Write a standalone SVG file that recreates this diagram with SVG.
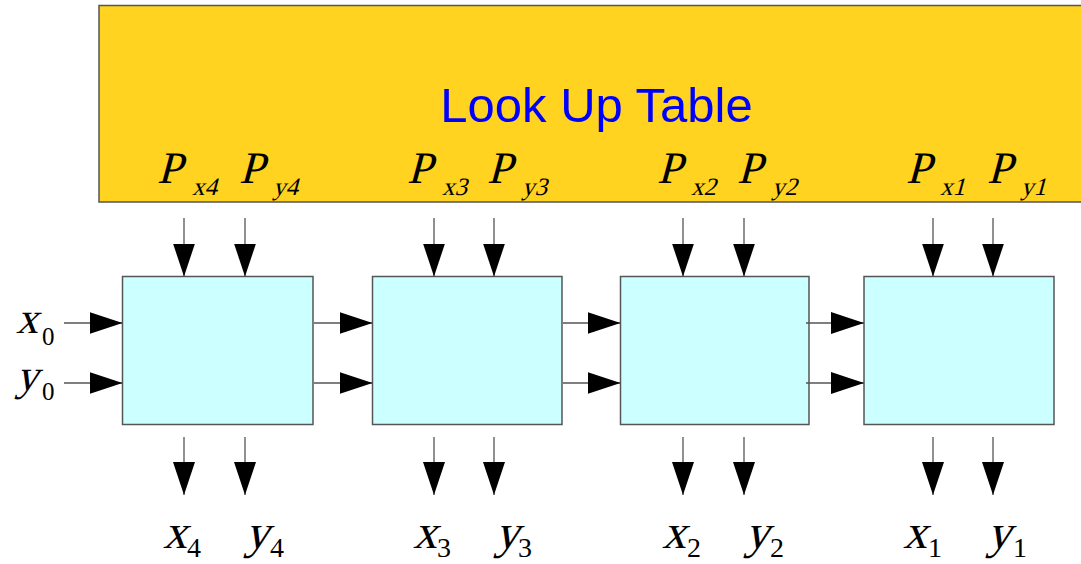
<svg xmlns="http://www.w3.org/2000/svg" width="1081" height="564" viewBox="0 0 1081 564">
<defs>
<marker id="ah" markerWidth="34" markerHeight="22" refX="33" refY="11" orient="auto" markerUnits="userSpaceOnUse"><path d="M0,0 L33,11 L0,22 z" fill="#000"/></marker>
</defs>
<style>
.box{fill:#ccffff;stroke:#555;stroke-width:1.5}
.lut{fill:#ffd320;stroke:#555;stroke-width:1.5}
.c{stroke:#555;stroke-width:1.3;fill:none;marker-end:url(#ah)}
.s{font-family:'Liberation Serif','Times New Roman',serif;font-style:normal;fill:#000}
.P{font-size:45px}
.ps{font-size:25px}
.v{font-size:48px}
.vl{font-size:44px}
.n{font-size:28px}
.nl{font-size:25px}
.t{font-family:'Liberation Sans',Arial,sans-serif;fill:#0000ff;font-size:49px}
</style>
<g id="lut">
<rect class="lut" x="99" y="5.5" width="1000" height="196.5"/>
<text class="t" x="596.5" y="121.5" text-anchor="middle">Look Up Table</text>
<text class="s P" transform="translate(157,183) skewX(-15)">P</text>
<text class="s ps" transform="translate(192,195) skewX(-15)">x4</text>
<text class="s P" transform="translate(239,183) skewX(-15)">P</text>
<text class="s ps" transform="translate(273,195) skewX(-15)">y4</text>
<text class="s P" transform="translate(407,183) skewX(-15)">P</text>
<text class="s ps" transform="translate(442,195) skewX(-15)">x3</text>
<text class="s P" transform="translate(487,183) skewX(-15)">P</text>
<text class="s ps" transform="translate(522,195) skewX(-15)">y3</text>
<text class="s P" transform="translate(657,183) skewX(-15)">P</text>
<text class="s ps" transform="translate(691,195) skewX(-15)">x2</text>
<text class="s P" transform="translate(737,183) skewX(-15)">P</text>
<text class="s ps" transform="translate(772,195) skewX(-15)">y2</text>
<text class="s P" transform="translate(906,183) skewX(-15)">P</text>
<text class="s ps" transform="translate(940,195) skewX(-15)">x1</text>
<text class="s P" transform="translate(987,183) skewX(-15)">P</text>
<text class="s ps" transform="translate(1021,195) skewX(-15)">y1</text>
</g>
<g id="block4"><rect class="box" x="122.5" y="276.5" width="190.5" height="148"/></g>
<g id="block3"><rect class="box" x="372.5" y="276.5" width="189.5" height="148"/></g>
<g id="block2"><rect class="box" x="620.5" y="276.5" width="188.5" height="148"/></g>
<g id="block1"><rect class="box" x="864" y="276.5" width="190" height="148"/></g>
<g id="inputs">
<text class="s vl" transform="translate(16,333) skewX(-15)">x</text>
<text class="s nl" x="42" y="345">0</text>
<text class="s vl" transform="translate(16,390) skewX(-15)">y</text>
<text class="s nl" x="42" y="400">0</text>
</g>
<g id="outputs">
<text class="s v" transform="translate(163,548) skewX(-15)">x</text>
<text class="s n" x="187" y="557">4</text>
<text class="s v" transform="translate(245,548) skewX(-15)">y</text>
<text class="s n" x="270" y="557">4</text>
<text class="s v" transform="translate(413,548) skewX(-15)">x</text>
<text class="s n" x="437" y="557">3</text>
<text class="s v" transform="translate(495,548) skewX(-15)">y</text>
<text class="s n" x="518" y="557">3</text>
<text class="s v" transform="translate(662,548) skewX(-15)">x</text>
<text class="s n" x="687" y="557">2</text>
<text class="s v" transform="translate(745,548) skewX(-15)">y</text>
<text class="s n" x="770" y="557">2</text>
<text class="s v" transform="translate(903,548) skewX(-15)">x</text>
<text class="s n" x="928" y="557">1</text>
<text class="s v" transform="translate(987,548) skewX(-15)">y</text>
<text class="s n" x="1013" y="557">1</text>
</g>
<g id="connectors">
<line class="c" x1="184" y1="218" x2="184" y2="276.5"/>
<line class="c" x1="245" y1="218" x2="245" y2="276.5"/>
<line class="c" x1="434" y1="218" x2="434" y2="276.5"/>
<line class="c" x1="494" y1="218" x2="494" y2="276.5"/>
<line class="c" x1="683" y1="218" x2="683" y2="276.5"/>
<line class="c" x1="744" y1="218" x2="744" y2="276.5"/>
<line class="c" x1="933" y1="218" x2="933" y2="276.5"/>
<line class="c" x1="993" y1="218" x2="993" y2="276.5"/>
<line class="c" x1="184" y1="437" x2="184" y2="495"/>
<line class="c" x1="245" y1="437" x2="245" y2="495"/>
<line class="c" x1="434" y1="437" x2="434" y2="495"/>
<line class="c" x1="494" y1="437" x2="494" y2="495"/>
<line class="c" x1="683" y1="437" x2="683" y2="495"/>
<line class="c" x1="744" y1="437" x2="744" y2="495"/>
<line class="c" x1="933" y1="437" x2="933" y2="495"/>
<line class="c" x1="993" y1="437" x2="993" y2="495"/>
<line class="c" x1="64" y1="323" x2="122.5" y2="323"/>
<line class="c" x1="64" y1="383" x2="122.5" y2="383"/>
<line class="c" x1="314" y1="323" x2="372.5" y2="323"/>
<line class="c" x1="314" y1="383" x2="372.5" y2="383"/>
<line class="c" x1="563" y1="323" x2="620.5" y2="323"/>
<line class="c" x1="563" y1="383" x2="620.5" y2="383"/>
<line class="c" x1="806" y1="323" x2="864" y2="323"/>
<line class="c" x1="806" y1="383" x2="864" y2="383"/>
</g>
</svg>
